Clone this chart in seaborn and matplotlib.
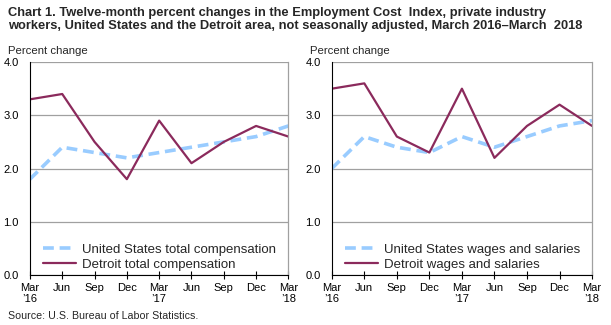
import matplotlib
matplotlib.use("Agg")
import matplotlib.pyplot as plt
import seaborn as sns
import pandas as pd

periods = ["Mar\n\u201916", "Jun", "Sep", "Dec", "Mar\n\u201917", "Jun", "Sep", "Dec", "Mar\n\u201918"]
us_total = [1.8, 2.4, 2.3, 2.2, 2.3, 2.4, 2.5, 2.6, 2.8]
detroit_total = [3.3, 3.4, 2.5, 1.8, 2.9, 2.1, 2.5, 2.8, 2.6]
us_wages = [2.0, 2.6, 2.4, 2.3, 2.6, 2.4, 2.6, 2.8, 2.9]
detroit_wages = [3.5, 3.6, 2.6, 2.3, 3.5, 2.2, 2.8, 3.2, 2.8]
yticks = [0.0, 1.0, 2.0, 3.0, 4.0]

sns.set_theme(style="white")
plt.rcParams['font.family'] = ['Liberation Sans', 'DejaVu Sans']

US_COLOR = "#99CCFF"
DET_COLOR = "#8B2A5C"

fig = plt.figure(figsize=(6.11, 3.25), dpi=100)

fig.text(0.013, 0.978, "Chart 1. Twelve-month percent changes in the Employment Cost  Index, private industry\n"
         "workers, United States and the Detroit area, not seasonally adjusted, March 2016\u2013March  2018",
         ha="left", va="top", fontsize=9.3, fontweight="bold", linespacing=1.08)
fig.text(0.013, 0.012, "Source: U.S. Bureau of Labor Statistics.", ha="left", va="bottom", fontsize=7.7)

panels = [
    ([0.049, 0.154, 0.423, 0.655], us_total, detroit_total,
     "United States total compensation", "Detroit total compensation", 0.013),
    ([0.543, 0.154, 0.426, 0.655], us_wages, detroit_wages,
     "United States wages and salaries", "Detroit wages and salaries", 0.508),
]

for rect, us, det, us_lab, det_lab, lx in panels:
    ax = fig.add_axes(rect)
    x = list(range(len(periods)))
    df = pd.DataFrame({"x": x * 2, "y": us + det,
                       "series": [us_lab] * len(x) + [det_lab] * len(x)})
    sns.lineplot(data=df[df.series == us_lab], x="x", y="y", ax=ax, color=US_COLOR,
                 linewidth=2.6, linestyle=(0, (3, 1.6)), label=us_lab)
    sns.lineplot(data=df[df.series == det_lab], x="x", y="y", ax=ax, color=DET_COLOR,
                 linewidth=1.6, label=det_lab)
    ax.set_xlim(0, 8)
    ax.set_ylim(0, 4)
    ax.set_xticks(x)
    ax.set_xticklabels(periods, fontsize=8, linespacing=1.05)
    ax.set_yticks(yticks)
    ax.set_yticklabels([f"{v:.1f}" for v in yticks], fontsize=8)
    ax.set_xlabel("")
    ax.set_ylabel("")
    ax.yaxis.grid(True, color="#A0A0A0", linewidth=0.9)
    ax.set_axisbelow(True)
    for s in ["left", "bottom"]:
        ax.spines[s].set_color("#000000")
        ax.spines[s].set_linewidth(0.8)
    for s in ["right", "top"]:
        ax.spines[s].set_color("#A0A0A0")
        ax.spines[s].set_linewidth(0.9)
    ax.spines["top"].set_visible(False)
    ax.tick_params(axis="x", which="both", bottom=True, direction="inout", length=6,
                   width=0.8, color="black", pad=3, labelcolor="black")
    ax.tick_params(axis="y", left=False, pad=2, labelcolor="black")
    leg = ax.legend(loc="lower left", frameon=False, fontsize=9.5, handlelength=2.5,
                    borderaxespad=0.0, labelspacing=0.2, handletextpad=0.45,
                    bbox_to_anchor=(0.03, -0.005))
    fig.text(lx, 0.828, "Percent change", ha="left", va="bottom", fontsize=8.2)

fig.savefig("out.png", dpi=100)
